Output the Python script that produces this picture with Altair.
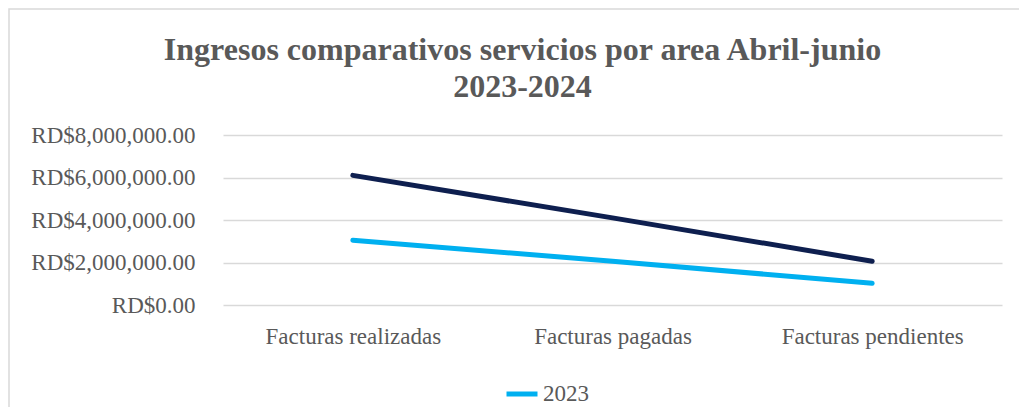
import altair as alt
import pandas as pd

categories = ["Facturas realizadas", "Facturas pagadas", "Facturas pendientes"]
values_2024 = [6100000, 4100000, 2060000]
values_2023 = [3050000, 2060000, 1020000]
y_ticks = [0, 2000000, 4000000, 6000000, 8000000]

df_2024 = pd.DataFrame({"Categoria": categories, "Valor": values_2024, "Serie": "2024"})
df_2023 = pd.DataFrame({"Categoria": categories, "Valor": values_2023, "Serie": "2023"})

FONT = "Liberation Serif"
GRAY = "#595959"
W, H = 779, 170

x_enc = alt.X("Categoria:N", sort=categories, title=None,
              scale=alt.Scale(type="point", padding=0.5),
              axis=alt.Axis(labelAngle=0, labelFont=FONT, labelFontSize=23, labelColor=GRAY,
                            labelPadding=20, labelLimit=0, ticks=False, domain=False, grid=False))
y_enc = alt.Y("Valor:Q", title=None,
              scale=alt.Scale(domain=[0, 8000000], nice=False),
              axis=alt.Axis(values=y_ticks, labelExpr="'RD$' + format(datum.value, ',.2f')",
                            labelFont=FONT, labelFontSize=23, labelColor=GRAY, labelPadding=28,
                            ticks=False, domain=False, grid=True, gridColor="#d9d9d9",
                            gridWidth=1.5))

dark = alt.Chart(df_2024).mark_line(strokeWidth=5, strokeCap="round", color="#0E1F4F").encode(
    x=x_enc, y=y_enc)

light = alt.Chart(df_2023).mark_line(strokeWidth=5, strokeCap="round").encode(
    x=x_enc, y=y_enc,
    color=alt.Color("Serie:N", scale=alt.Scale(domain=["2023"], range=["#00B0F0"]),
                    legend=alt.Legend(title=None, orient="none", legendX=281, legendY=241,
                                      symbolType="stroke", symbolSize=961, symbolStrokeWidth=5,
                                      labelFont=FONT, labelFontSize=23, labelColor=GRAY,
                                      labelOffset=3)))

border = alt.Chart(pd.DataFrame({"a": [0]})).mark_rect(
    fill=None, stroke="#d9d9d9", strokeWidth=1.5, clip=False).encode(
    x=alt.value(-214), x2=alt.value(W + 200), y=alt.value(-126), y2=alt.value(H + 200))

chart = alt.layer(border, dark, light).properties(
    width=W, height=H,
    title=alt.Title(["Ingresos comparativos  servicios por area Abril-junio", "2023-2024"],
                    font=FONT, fontSize=32, fontWeight="bold", color=GRAY,
                    anchor="middle", dx=-90, lineHeight=37, baseline="alphabetic",
                    offset=-121),
    autosize=alt.AutoSizeParams(type="none"),
    padding={"left": 215, "top": 127, "right": 17, "bottom": 102},
).configure_view(stroke=None)

chart.save("out.html", embed_options={"renderer": "svg", "actions": False})
